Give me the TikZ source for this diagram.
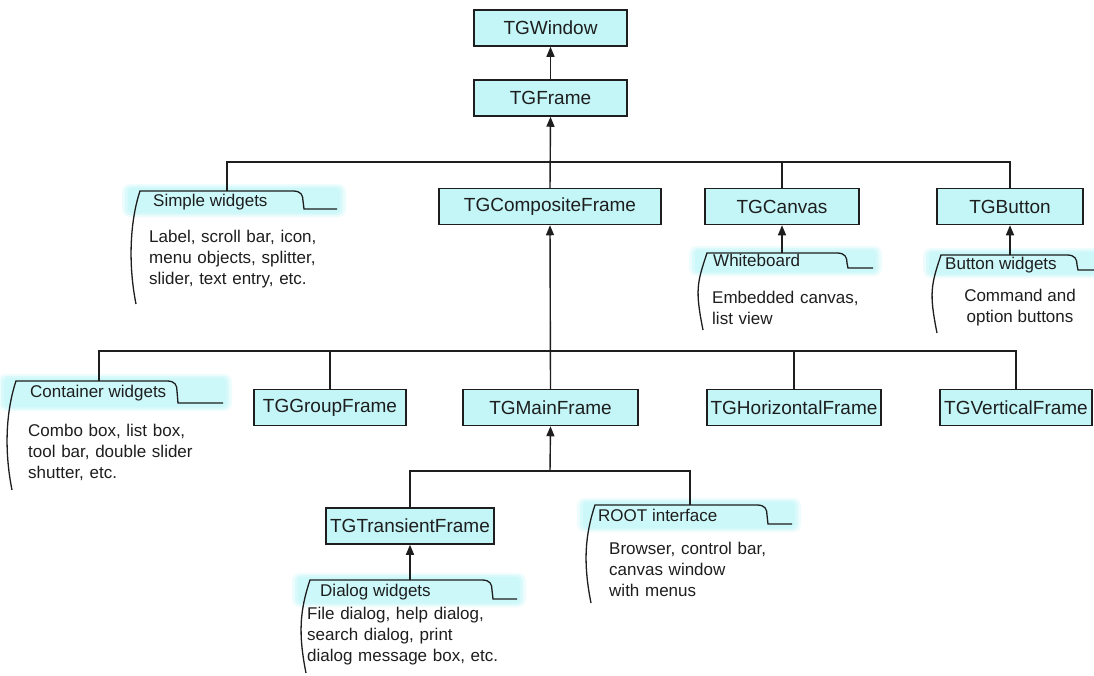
\documentclass[tikz,border=0pt]{standalone}
\usepackage{fontspec}
\setmainfont{Liberation Sans}
\usetikzlibrary{arrows.meta}
\definecolor{boxcyan}{RGB}{196,246,248}
\definecolor{tabcyan}{RGB}{204,248,250}
\definecolor{ink}{RGB}{30,30,30}
\tikzset{
  cls/.style={draw=ink, line width=1.5pt, fill=boxcyan, minimum height=36pt,
    inner sep=0pt, font=\fontsize{19}{23}\selectfont, text=ink},
  conn/.style={draw=ink, line width=1.4pt},
  inh/.style={conn, -{Triangle[width=8pt,length=10pt]}},
  tabtxt/.style={font=\fontsize{17}{21}\selectfont, text=ink, inner sep=0pt, anchor=base west},
  bodytxt/.style={font=\fontsize{17}{21}\selectfont, text=ink, inner sep=0pt,
    anchor=base west, align=left, text width=230pt},
  notebracket/.style={draw=ink, line width=1.3pt},
}
% #1 x0, #2 top y, #3 corner x, #4 step y, #5 end x, #6 bottom y
\newcommand\mynotetab[6]{%
  \fill[tabcyan, opacity=0.35, rounded corners=8pt] ({#1-18},{#2-7}) rectangle ({#5+9},{#4+8});
  \fill[tabcyan, opacity=0.6, rounded corners=6pt] ({#1-15},{#2-5}) rectangle ({#5+6},{#4+6});
  \fill[tabcyan, rounded corners=4pt] ({#1-12},{#2-3}) rectangle ({#5+3},{#4+4});
  \draw[notebracket] ({#1-4},#6) .. controls ({#1-12},{#6-40}) and ({#1-10},{#2+30}) .. (#1,#2)
    -- (#3,#2) .. controls ({#3+8},#2) and ({#3+10},{#2+4}) .. ({#3+10},{#2+10})
    -- ({#3+11},#4) -- (#5,#4);
}
\begin{document}
\begin{tikzpicture}[x=1pt,y=-1pt]
\fill[white] (0,0) rectangle (1094,675);
\useasboundingbox (0,0) rectangle (1094,675);

% class boxes
\node[cls, minimum width=153pt] (win) at (550.5,28) {TGWindow};
\node[cls, minimum width=153pt] (frame) at (550.5,98) {TGFrame};
\node[cls, minimum width=222pt] (comp) at (550,206.5) {TGCompositeFrame};
\node[cls, minimum width=154pt] (canvas) at (782,206.5) {TGCanvas};
\node[cls, minimum width=146pt] (button) at (1010,206.5) {TGButton};
\node[cls, minimum width=152pt] (group) at (330,407.5) {TGGroupFrame};
\node[cls, minimum width=175pt] (main) at (550.5,407.5) {TGMainFrame};
\node[cls, minimum width=174pt] (horiz) at (794,407.5) {TGHorizontalFrame};
\node[cls, minimum width=152pt] (vert) at (1016,407.5) {TGVerticalFrame};
\node[cls, minimum width=168pt] (trans) at (410,526) {TGTransientFrame};

% notes
\mynotetab{140}{191}{293}{209}{337}{304}
\node[tabtxt] (swt) at (153,206) {Simple widgets};
\node[bodytxt] (swb) at (149,242) {Label, scroll bar, icon,\\menu objects, splitter,\\slider, text entry, etc.};

\mynotetab{707}{253}{837}{268}{873}{330}
\node[tabtxt] (wbt) at (713,266) {Whiteboard};
\node[bodytxt] (wbb) at (712,303) {Embedded canvas,\\list view};

\mynotetab{941}{255}{1067}{270}{1100}{333}
\node[tabtxt] (bwt) at (945,269) {Button widgets};
\node[font=\fontsize{17}{21}\selectfont, text=ink, inner sep=0pt, align=center, anchor=north] (bwb) at (1020,289) {Command and\\option buttons};

\mynotetab{16}{381}{167}{403}{223}{490}
\node[tabtxt] (cwt) at (30,397) {Container widgets};
\node[bodytxt] (cwb) at (28,436) {Combo box, list box,\\tool bar, double slider\\shutter, etc.};

\mynotetab{595}{505}{757}{524}{792}{603}
\node[tabtxt] (rit) at (598,521) {ROOT interface};
\node[bodytxt] (rib) at (609,554) {Browser, control bar,\\canvas window\\with menus};

\mynotetab{310}{580}{482}{599}{517}{673}
\node[tabtxt] (dwt) at (320,596) {Dialog widgets};
\node[bodytxt] (dwb) at (307,619) {File dialog, help dialog,\\search dialog, print\\dialog message box, etc.};

% coordinates
\coordinate (bus1) at (550,162);
\coordinate (bus2) at (550,351);
\coordinate (bus3) at (550,471);
\coordinate (swtop) at (227,191);
\coordinate (wbtop) at (782,253);
\coordinate (bwtop) at (1010,255);
\coordinate (cwtop) at (99,381);
\coordinate (rtop) at (690,505);
\coordinate (dwtop) at (410,580);

% connectors
\draw[inh] (frame.north) -- (win.south);
\draw[inh] (comp.north) -- (frame.south);
\draw[conn] (swtop) -- (swtop |- bus1) -- (button.north |- bus1) -- (button.north);
\draw[conn] (canvas.north |- bus1) -- (canvas.north);
\draw[inh] (wbtop) -- (canvas.south);
\draw[inh] (bwtop) -- (button.south);

\draw[inh] (main.north) -- (comp.south);
\draw[conn] (cwtop) -- (cwtop |- bus2) -- (vert.north |- bus2) -- (vert.north);
\draw[conn] (group.north |- bus2) -- (group.north);
\draw[conn] (horiz.north |- bus2) -- (horiz.north);

\draw[inh] (bus3) -- (main.south);
\draw[conn] (trans.north) -- (trans.north |- bus3) -- (rtop |- bus3) -- (rtop);
\draw[inh] (dwtop) -- (trans.south);
\end{tikzpicture}
\end{document}
